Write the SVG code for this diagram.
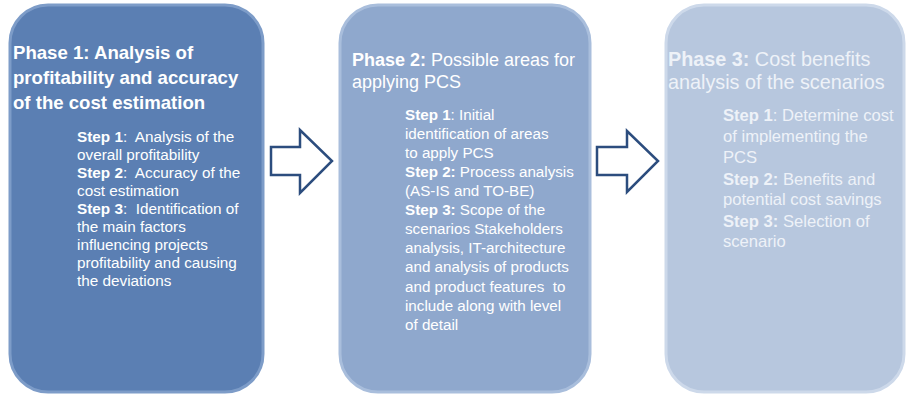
<svg xmlns="http://www.w3.org/2000/svg" width="907" height="398" viewBox="0 0 907 398">
<style>
.box{stroke-width:3}
.t{font-family:"Liberation Sans",Arial,sans-serif;fill:#ffffff;white-space:pre}
.h1{font-size:18.6px}
.s1{font-size:15.3px}
.h2{font-size:18px}
.s2{font-size:15.2px}
.h3{font-size:19.8px}
.s3{font-size:16.6px}
.p3{fill:#eef2f8}
.b{font-weight:bold}
.arrow{fill:#ffffff;stroke:#2c4d7e;stroke-width:2.5;stroke-linejoin:miter}
</style>
<rect width="907" height="398" fill="#ffffff"/>
<g id="phase1">
<rect class="box" x="10" y="5" width="253" height="387" rx="38" ry="38" fill="#5b7fb3" stroke="#7d9cc8"/>
<text class="t h1 b" x="13" y="59">Phase 1: Analysis of</text>
<text class="t h1 b" x="13" y="84">profitability and accuracy</text>
<text class="t h1 b" x="13" y="109">of the cost estimation</text>
<text class="t s1" x="77" y="142"><tspan class="b">Step 1</tspan>:  Analysis of the</text>
<text class="t s1" x="77" y="160">overall profitability</text>
<text class="t s1" x="77" y="178"><tspan class="b">Step 2</tspan>:  Accuracy of the</text>
<text class="t s1" x="77" y="196">cost estimation</text>
<text class="t s1" x="77" y="214"><tspan class="b">Step 3</tspan>:  Identification of</text>
<text class="t s1" x="77" y="232">the main factors</text>
<text class="t s1" x="77" y="250">influencing projects</text>
<text class="t s1" x="77" y="268">profitability and causing</text>
<text class="t s1" x="77" y="286">the deviations</text>
</g>
<g id="phase2">
<rect class="box" x="340" y="5" width="250" height="387" rx="38" ry="38" fill="#8fa8cd" stroke="#a9bedc"/>
<text class="t h2" x="352" y="66"><tspan class="b">Phase 2:</tspan> Possible areas for</text>
<text class="t h2" x="352" y="88">applying PCS</text>
<text class="t s2" x="405" y="120"><tspan class="b">Step 1</tspan>: Initial</text>
<text class="t s2" x="405" y="139">identification of areas</text>
<text class="t s2" x="405" y="158">to apply PCS</text>
<text class="t s2" x="405" y="177"><tspan class="b">Step 2:</tspan> Process analysis</text>
<text class="t s2" x="405" y="196">(AS-IS and TO-BE)</text>
<text class="t s2" x="405" y="215"><tspan class="b">Step 3:</tspan> Scope of the</text>
<text class="t s2" x="405" y="234">scenarios Stakeholders</text>
<text class="t s2" x="405" y="253">analysis, IT-architecture</text>
<text class="t s2" x="405" y="272">and analysis of products</text>
<text class="t s2" x="405" y="292">and product features  to</text>
<text class="t s2" x="405" y="311">include along with level</text>
<text class="t s2" x="405" y="330">of detail</text>
</g>
<g id="phase3">
<rect class="box" x="666" y="5" width="238" height="387" rx="38" ry="38" fill="#b7c7de" stroke="#cdd9ea"/>
<text class="t p3 h3" x="668" y="66"><tspan class="b">Phase 3:</tspan> Cost benefits</text>
<text class="t p3 h3" x="668" y="89">analysis of the scenarios</text>
<text class="t p3 s3" x="723" y="121"><tspan class="b">Step 1</tspan>: Determine cost</text>
<text class="t p3 s3" x="723" y="142">of implementing the</text>
<text class="t p3 s3" x="723" y="163">PCS</text>
<text class="t p3 s3" x="723" y="185"><tspan class="b">Step 2:</tspan> Benefits and</text>
<text class="t p3 s3" x="723" y="205">potential cost savings</text>
<text class="t p3 s3" x="723" y="227"><tspan class="b">Step 3:</tspan> Selection of</text>
<text class="t p3 s3" x="723" y="247">scenario</text>
</g>
<g id="connectors">
<path class="arrow" d="M271,147 L300,147 L300,130 L332,161 L300,193 L300,175 L271,175 Z"/>
<path class="arrow" d="M597,147 L627,147 L627,131 L658,161 L627,192 L627,175 L597,175 Z"/>
</g>
</svg>
